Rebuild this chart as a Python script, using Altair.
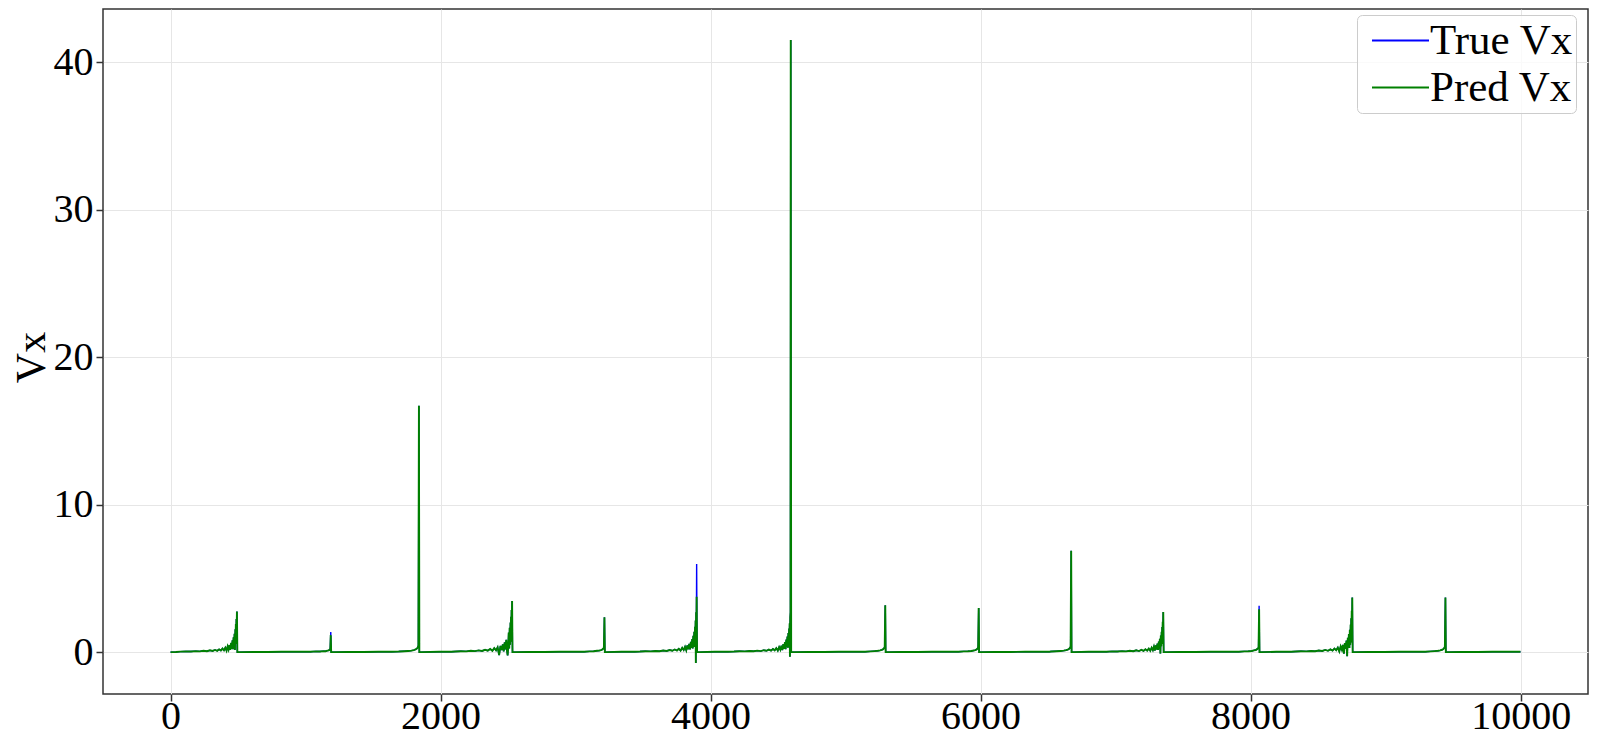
import altair as alt
import pandas as pd

# ---- data ----
x_ticks = [0, 2000, 4000, 6000, 8000, 10000]
y_ticks = [0, 10, 20, 30, 40]

# spikes preceded by a long noisy ramp
ramp_spikes = [492, 2530, 3897, 4594, 7353, 8753]
ramp_dx = [-420, -380, -340, -305, -275, -248, -222, -200, -180, -162, -146, -132,
           -119, -107, -96, -86, -77, -69, -62, -55, -49, -43, -38, -33, -29, -25,
           -21, -18, -15, -12, -10, -8, -6, -4, -2, 0]
ramp_492 = [0.03, 0.05, 0.04, 0.07, 0.05, 0.09, 0.06, 0.12, 0.08, 0.15, 0.09, 0.19,
            0.11, 0.24, 0.12, 0.30, 0.10, 0.38, 0.18, 0.48, 0.15, 0.62, 0.22, 0.80,
            0.20, 1.00, 0.30, 1.25, 0.15, 1.55, 0.55, 1.90, 0.70, 2.25, 1.40, 2.76]
ramp_2530 = [0.04, 0.06, 0.05, 0.09, 0.07, 0.12, 0.08, 0.16, 0.10, 0.21, 0.09, 0.27,
             0.12, 0.33, -0.20, 0.42, 0.14, 0.52, 0.05, 0.66, 0.18, 0.84, 0.12, -0.22,
             0.30, 1.32, 0.25, 1.65, 0.50, 2.00, 0.70, 2.40, 0.95, 2.85, 1.70, 3.46]
ramp_3897 = [0.04, 0.06, 0.05, 0.08, 0.06, 0.11, 0.08, 0.14, 0.09, 0.18, 0.11, 0.23,
             0.10, 0.29, 0.14, 0.36, 0.12, 0.45, 0.20, 0.56, 0.18, 0.70, 0.28, 0.88,
             0.25, 1.10, 0.40, 1.38, 0.35, 1.72, 0.80, 2.15, -0.73, 2.70, 1.60, 3.76]
ramp_4594 = [0.04, 0.06, 0.05, 0.08, 0.06, 0.10, 0.07, 0.13, 0.09, 0.17, 0.10, 0.21,
             0.12, 0.27, 0.10, 0.34, 0.16, 0.43, 0.14, 0.54, 0.22, 0.68, 0.20, 0.85,
             0.35, 1.05, 0.30, 1.30, 0.60, 1.60, 0.85, 1.95, -0.32, 2.35, 2.70, 41.5]
ramp_7353 = [0.03, 0.05, 0.04, 0.07, 0.05, 0.09, 0.06, 0.12, 0.07, 0.15, 0.08, 0.19,
             0.10, 0.24, 0.09, 0.30, 0.13, 0.37, 0.11, 0.46, 0.18, 0.58, 0.15, 0.72,
             0.25, 0.90, -0.10, 1.12, 0.40, 1.38, 0.55, 1.70, 0.75, 2.05, 1.30, 2.72]
ramp_8753 = [0.04, 0.06, 0.05, 0.08, 0.06, 0.11, 0.08, 0.15, 0.09, 0.19, 0.10, 0.24,
             0.13, 0.31, 0.05, 0.39, 0.17, 0.49, -0.10, 0.62, 0.22, 0.78, -0.27, 0.98,
             0.32, 1.22, 0.28, 1.52, 0.50, 1.88, 0.65, 2.30, 0.95, 2.80, 1.50, 3.71]
ramp_values = [ramp_492, ramp_2530, ramp_3897, ramp_4594, ramp_7353, ramp_8753]

# isolated spikes preceded by a small bump
bump_spikes = [1187, 1840, 3214, 5294, 5986, 6671, 8063, 9443]
bump_dx = [-150, -110, -80, -55, -38, -25, -15, -8, -4, 0]
bump_1187 = [0.03, 0.05, 0.04, 0.07, 0.06, 0.10, 0.12, 0.18, 0.15, 1.15]
bump_1840 = [0.04, 0.06, 0.08, 0.10, 0.14, 0.18, 0.24, 0.32, 0.45, 16.7]
bump_3214 = [0.03, 0.05, 0.06, 0.09, 0.10, 0.14, 0.18, 0.25, 0.30, 2.36]
bump_5294 = [0.03, 0.05, 0.07, 0.09, 0.12, 0.15, 0.20, 0.28, 0.35, 3.17]
bump_5986 = [0.03, 0.05, 0.06, 0.08, 0.11, 0.14, 0.18, 0.25, 0.32, 2.99]
bump_6671 = [0.04, 0.06, 0.08, 0.10, 0.13, 0.17, 0.22, 0.30, 0.38, 6.88]
bump_8063 = [0.03, 0.05, 0.06, 0.08, 0.12, 0.14, 0.20, 0.26, 0.30, 2.90]
bump_9443 = [0.03, 0.05, 0.07, 0.09, 0.12, 0.16, 0.21, 0.30, 0.36, 3.71]
bump_values = [bump_1187, bump_1840, bump_3214, bump_5294, bump_5986, bump_6671,
               bump_8063, bump_9443]

# value right after each spike (line falls back to zero)
drop_dx = 3
drop_value = 0.0

# peaks where the true series differs from the prediction
true_peaks = {1187: 1.36, 3897: 5.98, 8063: 3.15}

# flat stretches between events
baseline_points = [
    (0, 0.00), (40, 0.01),
    (520, 0.00), (620, 0.01), (720, 0.01), (820, 0.02), (920, 0.02), (1010, 0.03),
    (1210, 0.00), (1320, 0.01), (1430, 0.01), (1540, 0.02), (1640, 0.03),
    (1860, 0.00), (1990, 0.02), (2080, 0.03),
    (2550, 0.00), (2660, 0.01), (2770, 0.01), (2880, 0.02), (2990, 0.02), (3050, 0.03),
    (3230, 0.00), (3340, 0.02), (3440, 0.03),
    (3920, 0.00), (4030, 0.02), (4130, 0.03),
    (4620, 0.00), (4730, 0.01), (4840, 0.01), (4950, 0.02), (5060, 0.02), (5130, 0.03),
    (5310, 0.00), (5420, 0.01), (5530, 0.01), (5640, 0.02), (5750, 0.02), (5820, 0.03),
    (6000, 0.00), (6110, 0.01), (6220, 0.01), (6330, 0.02), (6440, 0.02), (6510, 0.03),
    (6690, 0.00), (6800, 0.02), (6900, 0.03),
    (7370, 0.00), (7480, 0.01), (7590, 0.01), (7700, 0.02), (7810, 0.02), (7900, 0.03),
    (8080, 0.00), (8190, 0.02), (8300, 0.03),
    (8770, 0.00), (8880, 0.01), (8990, 0.01), (9100, 0.02), (9210, 0.02), (9280, 0.03),
    (9460, 0.00), (9570, 0.01), (9680, 0.01), (9790, 0.02), (9900, 0.02), (9999, 0.03),
]

# ---- assemble table ----
pts = list(baseline_points)
for s, vals in zip(ramp_spikes, ramp_values):
    pts += [(s + d, v) for d, v in zip(ramp_dx, vals)]
    pts.append((s + drop_dx, drop_value))
for s, vals in zip(bump_spikes, bump_values):
    pts += [(s + d, v) for d, v in zip(bump_dx, vals)]
    pts.append((s + drop_dx, drop_value))
pts.sort(key=lambda p: p[0])

rows = []
for x, v in pts:
    rows.append({"t": x, "vx": true_peaks.get(x, v), "series": "True Vx"})
for x, v in pts:
    rows.append({"t": x, "vx": v, "series": "Pred Vx"})
df = pd.DataFrame(rows)

FONT = "Liberation Serif"
color = alt.Color(
    "series:N",
    scale=alt.Scale(domain=["True Vx", "Pred Vx"], range=["#0000ff", "#008000"]),
    legend=alt.Legend(
        title=None, orient="none", legendX=1254, legendY=6,
        symbolType="stroke", symbolSize=3249, symbolStrokeWidth=2,
        symbolOffset=11, clipHeight=45,
        labelFont=FONT, labelFontSize=43, labelColor="black", labelOffset=0,
        labelExpr="datum.label + '\u00a0\u00a0'",
        padding=3, rowPadding=2,
        strokeColor="#cccccc", cornerRadius=5, fillColor="rgba(255,255,255,0.8)",
    ),
)
x = alt.X("t:Q", scale=alt.Scale(domain=[-500, 10499], nice=False, zero=False),
          axis=alt.Axis(values=x_ticks, format="d", title=None,
                        labelBaseline="alphabetic", labelPadding=27))
y = alt.Y("vx:Q", scale=alt.Scale(domain=[-2.84, 43.61], nice=False, zero=False),
          axis=alt.Axis(values=y_ticks, format="d", title="Vx",
                        titleX=-72, titleY=348, titleAngle=270,
                        titleAlign="center", titleBaseline="middle",
                        titleFontSize=42, labelPadding=3))

base = alt.Chart(df)
true_line = base.transform_filter(alt.datum.series == "True Vx").mark_line(
    strokeWidth=1.4, clip=True).encode(x=x, y=y, color=color)
pred_line = base.transform_filter(alt.datum.series == "Pred Vx").mark_line(
    strokeWidth=1.9, clip=True).encode(x=x, y=y, color=color)

chart = alt.layer(true_line, pred_line).properties(
    width=1485, height=685,
    padding={"left": 95, "top": 1, "right": 2, "bottom": 44},
    autosize=alt.AutoSizeParams(type="none"),
    background="white",
).configure_view(
    stroke="#333333", strokeWidth=1.5
).configure_axis(
    domain=False, grid=True, gridColor="#e6e6e6", gridWidth=1,
    tickColor="#333333", tickSize=7, tickWidth=1.5,
    labelFont=FONT, labelFontSize=40, labelColor="black",
    titleFont=FONT, titleFontSize=40, titleColor="black", titleFontWeight="normal",
)

chart.save("out.html", embed_options={"renderer": "svg", "actions": False})
